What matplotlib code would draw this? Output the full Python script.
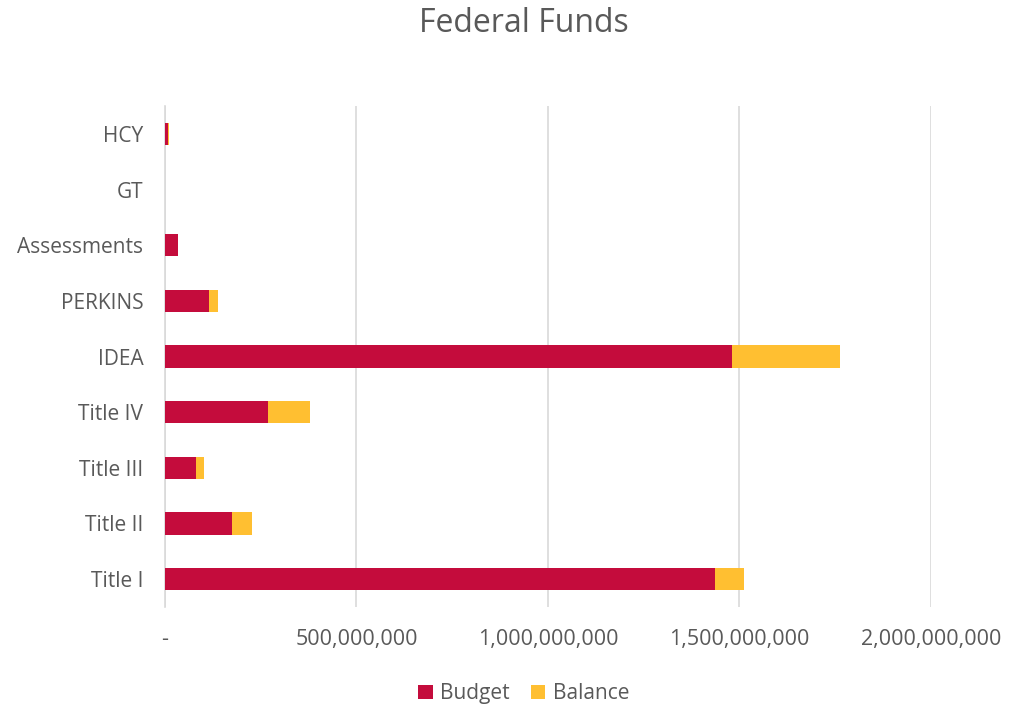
import matplotlib
matplotlib.use('Agg')
import matplotlib.pyplot as plt
from matplotlib.ticker import FuncFormatter

categories = ['Title I', 'Title II', 'Title III', 'Title IV', 'IDEA',
              'PERKINS', 'Assessments', 'GT', 'HCY']
budget = [1435e6, 176e6, 82e6, 268e6, 1481e6, 114e6, 33e6, 0, 7e6]
balance = [76e6, 52e6, 20e6, 110e6, 281e6, 24e6, 2e6, 0, 3e6]

plt.rcParams['font.family'] = ['Open Sans', 'DejaVu Sans']
text_col = '#595959'

fig = plt.figure(figsize=(10.17, 7.04), dpi=100)
ax = fig.add_axes([0.1622, 0.1378, 0.7532, 0.7116])

y = range(len(categories))
ax.barh(y, budget, height=0.4, color='#C40C3C', label='Budget', zorder=3)
ax.barh(y, balance, left=budget, height=0.4, color='#FFBF31', label='Balance', zorder=3)

ax.set_xlim(0, 2e9)
ax.set_ylim(-0.5, len(categories) - 0.5)
ax.set_yticks(list(y))
ax.set_yticklabels(categories)
ax.set_xticks([0, 5e8, 1e9, 1.5e9, 2e9])
ax.xaxis.set_major_formatter(FuncFormatter(lambda v, p: '-' if v == 0 else f'{v:,.0f}'))

ax.grid(axis='x', color='#D9D9D9', linewidth=1.2, zorder=0)
for s in ['top', 'right', 'bottom']:
    ax.spines[s].set_visible(False)
ax.spines['left'].set_color('#D9D9D9')
ax.spines['left'].set_linewidth(1.2)
ax.tick_params(length=0, colors=text_col)
ax.tick_params(axis='x', pad=16, labelsize=15.5)
ax.tick_params(axis='y', pad=15.5, labelsize=15)

fig.suptitle('Federal Funds', x=0.515, y=0.99, fontsize=23, color=text_col)
leg = fig.legend(loc='lower center', bbox_to_anchor=(0.515, -0.027), ncol=2, frameon=False,
                 fontsize=15, handlelength=0.7, handleheight=0.7, columnspacing=1.0,
                 handletextpad=0.35)
for t in leg.get_texts():
    t.set_color(text_col)

fig.savefig('out.png', dpi=100)
